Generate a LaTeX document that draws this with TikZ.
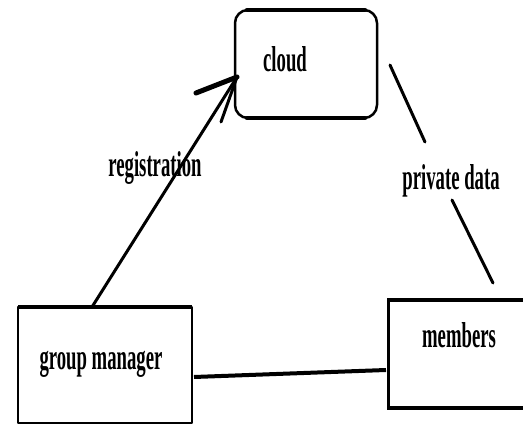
\documentclass[tikz,border=0pt]{standalone}
\usepackage{fontspec}
\setmainfont{Liberation Serif}
\usepackage{graphicx}
\newcommand{\sq}[1]{\scalebox{0.52}[1]{#1}}
\tikzset{
  lbl/.style={font=\fontsize{36}{40}\selectfont\bfseries, anchor=base, inner sep=0pt},
  boxshape/.style={draw=none, inner sep=0pt, outer sep=0pt},
  thinline/.style={line width=2.5pt, line cap=round, line join=round},
  thickline/.style={line width=4.5pt, line cap=round},
  conn/.style={line width=3pt, line cap=round},
}
\begin{document}
\begin{tikzpicture}[x=1pt, y=-1pt]
  \useasboundingbox[fill=white] (0,0) rectangle (523,425);

  % boxes
  \node[boxshape, minimum width=142pt, minimum height=108pt] (cloud) at (306,64) {};
  \node[boxshape, minimum width=174pt, minimum height=116pt] (gm) at (105,365) {};
  \node[boxshape, minimum width=135pt, minimum height=108pt] (mem) at (455.5,354) {};

  % cloud outline
  \draw[thinline, rounded corners=13pt] (cloud.north west) rectangle (cloud.south east);
  \draw[thickline] ([xshift=12pt]cloud.north west) -- ([xshift=-12pt]cloud.north east);
  \draw[thickline] ([xshift=12pt]cloud.south west) -- ([xshift=-12pt]cloud.south east);

  % group manager outline
  \draw[thinline] (gm.north west) rectangle (gm.south east);
  \draw[thickline, line cap=butt] (gm.north west) -- (gm.north east);

  % members outline (open on the right)
  \draw[line width=3pt] (mem.north east) -- (mem.north west) -- (mem.south west) -- (mem.south east);
  \draw[thickline, line cap=butt] (mem.north west) -- (mem.north east);
  \draw[line width=3.5pt, line cap=butt] (mem.south west) -- (mem.south east);

  % labels
  \node[lbl] (tcloud) at (285,72) {\sq{cloud}};
  \node[lbl] (tgm) at (101,370) {\sq{group manager}};
  \node[lbl] (tmem) at (459,348) {\sq{members}};

  % registration arrow
  \coordinate (regstart) at (92,307);
  \coordinate (tip) at (237,77);
  \coordinate (wingA) at (196,93);
  \coordinate (wingB) at (221,122);
  \draw[conn] (regstart) -- (tip);
  \draw[line width=5pt, line cap=round] (wingA) -- (tip);
  \draw[line width=3pt, line cap=round] (wingB) -- (tip);
  \node[lbl] (treg) at (155,177) {\sq{registration}};

  % private data line
  \coordinate (pdA) at (390,65);
  \coordinate (pdB) at (425,142);
  \coordinate (pdC) at (452,200);
  \coordinate (pdD) at (493,283);
  \draw[conn] (pdA) -- (pdB);
  \draw[conn] (pdC) -- (pdD);
  \node[lbl] (tpd) at (451,190) {\sq{private data}};

  % group manager -- members
  \coordinate (gmR) at (194,377);
  \coordinate (memL) at (386,370);
  \draw[line width=4pt] (gmR) -- (memL);
\end{tikzpicture}
\end{document}
